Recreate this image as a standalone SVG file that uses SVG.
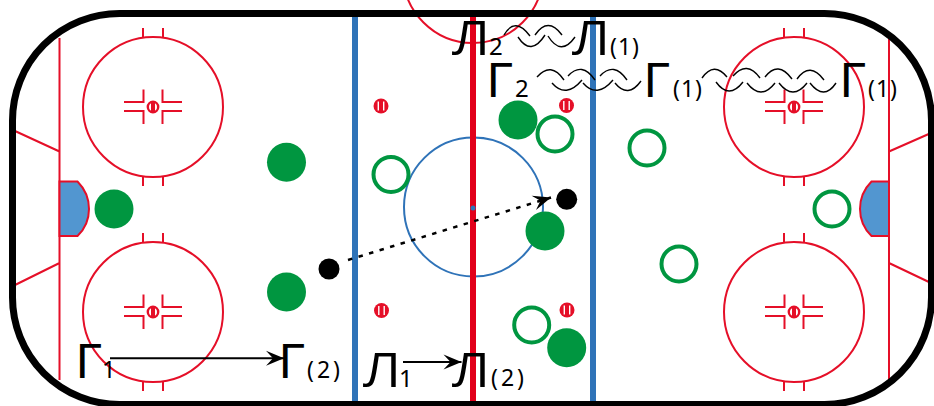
<svg xmlns="http://www.w3.org/2000/svg" xmlns:xlink="http://www.w3.org/1999/xlink" width="934" height="406" viewBox="0 0 934 406">
<style>
.rl{fill:none;stroke:#e50f28;stroke-width:2}
.crease{fill:#5296d0;stroke:#e50f28;stroke-width:2}
.dotr{fill:#fff;stroke:#e50f28;stroke-width:2.400}
.dotc{fill:#e50f28}
.gf{fill:#009640}
.go{fill:none;stroke:#009640;stroke-width:4}
.bk{fill:#000}
.coil{fill:none;stroke:#000;stroke-width:1.400}
.big{font-family:"DejaVu Sans",sans-serif;font-size:46px;fill:#000}
.bigl{font-family:"Open Sans",sans-serif;font-size:48px;fill:#000}
.sub{font-family:"Noto Sans",sans-serif;font-size:24px;fill:#000}
.par{font-family:"Noto Sans",sans-serif;font-size:23px;fill:#000;letter-spacing:3px}
.par1{font-family:"Noto Sans",sans-serif;font-size:23px;fill:#000;letter-spacing:1px}
</style>
<defs>
<marker id="ah" markerUnits="userSpaceOnUse" markerWidth="22" markerHeight="20" refX="18" refY="8" orient="auto" overflow="visible">
<path d="M0 0.500 L18 8 L0 15.500 L7 8 Z" fill="#000"/>
</marker>
<g id="hf"><circle r="5.200" class="dotr"/><rect x="-2" y="-4.500" width="4" height="9" class="dotc"/></g>
<g id="nd"><circle r="7.500" class="dotc"/><rect x="-3.400" y="-4.500" width="1.400" height="9" fill="#fff"/><rect x="2" y="-4.500" width="1.400" height="9" fill="#fff"/></g>
<g id="fo">
<circle r="70" class="rl"/>
<path class="rl" d="M-10 -79V-70M10 -79V-70M-10 70V79M10 70V79M-29 -5H-9.500V-17.500M29 -5H9.500V-17.500M-29 4H-9.500V17M29 4H9.500V17"/>
<use xlink:href="#hf" href="#hf"/>
</g>
</defs>
<rect width="934" height="406" fill="#fff"/>
<g id="rink-lines">
<circle cx="473" cy="-27" r="70" class="rl"/>
<path class="rl" d="M59.500 38V380M889 38V380M15 131L59.500 151.500M15 285L59.500 263M889 151.500L931 133M889 263L931 283"/>
<path class="crease" d="M59.500 181.500H77.500Q89 193 89 209Q89 225 77.500 236H59.500Z"/>
<path class="crease" d="M889 181.500H871.500Q860 193 860 209Q860 225 871.500 236H889Z"/>
<circle cx="473.500" cy="207" r="69.500" fill="none" stroke="#2f73b8" stroke-width="2"/>
<rect x="352" y="14" width="6" height="390" fill="#2f73b8"/>
<rect x="590" y="14" width="6" height="390" fill="#2f73b8"/>
<rect x="470" y="14" width="6" height="390" fill="#e2001a"/>
<circle cx="473" cy="208" r="2.500" fill="#2f73b8"/>
</g>
<g id="faceoff-1"><use xlink:href="#fo" href="#fo" x="153" y="107"/></g>
<g id="faceoff-2"><use xlink:href="#fo" href="#fo" x="153" y="312"/></g>
<g id="faceoff-3"><use xlink:href="#fo" href="#fo" x="794" y="107"/></g>
<g id="faceoff-4"><use xlink:href="#fo" href="#fo" x="794" y="312"/></g>
<g id="neutral-dots">
<use xlink:href="#nd" href="#nd" x="381" y="106"/>
<use xlink:href="#nd" href="#nd" x="566.500" y="105.500"/>
<use xlink:href="#nd" href="#nd" x="381.500" y="310.500"/>
<use xlink:href="#nd" href="#nd" x="567" y="310"/>
</g>
<rect id="board" x="12.500" y="13.500" width="919" height="391" rx="107" ry="107" fill="none" stroke="#000" stroke-width="7"/>
<g id="players-filled">
<circle id="f1" class="gf" cx="286.500" cy="162.300" r="19.500"/>
<circle id="f2" class="gf" cx="286.500" cy="292" r="19.500"/>
<circle id="f3" class="gf" cx="114" cy="209" r="19.500"/>
<circle id="f4" class="gf" cx="518" cy="120" r="19.500"/>
<circle id="f5" class="gf" cx="545" cy="231" r="19.500"/>
<circle id="f6" class="gf" cx="566.700" cy="347.700" r="19.500"/>
</g>
<g id="players-open">
<circle id="o1" class="go" cx="391" cy="174.500" r="17.500"/>
<circle id="o2" class="go" cx="555" cy="134" r="17.500"/>
<circle id="o3" class="go" cx="531.700" cy="325" r="17.500"/>
<circle id="o4" class="go" cx="647" cy="148" r="17.500"/>
<circle id="o5" class="go" cx="679" cy="264" r="17.500"/>
<circle id="o6" class="go" cx="832" cy="209" r="17.500"/>
</g>
<g id="pucks">
<circle id="p1" class="bk" cx="329" cy="269" r="10.500"/>
<circle id="p2" class="bk" cx="566.700" cy="199.300" r="10.500"/>
</g>
<g id="connectors">
<line x1="348" y1="260" x2="551" y2="197.500" stroke="#000" stroke-width="2.500" stroke-dasharray="4.500 6.500" marker-end="url(#ah)"/>
<line x1="110" y1="358.300" x2="284" y2="358.300" stroke="#000" stroke-width="2" marker-end="url(#ah)"/>
<line x1="403" y1="362" x2="461.500" y2="362" stroke="#000" stroke-width="2" marker-end="url(#ah)"/>
<path class="coil" d="M504 35Q515 16 530 36M518 37Q531 57 545 35M535 35Q548 16 562 35M548 36Q561 57 575 37"/>
<path class="coil" d="M537 77Q551 61 564 80M552 83Q566 99 582 80M568 76Q582 61 595 80M583 83Q597 99 613 80M600 76Q614 61 627 80M615 83Q628 99 641 81"/>
<path class="coil" d="M702 78Q714 61 727 77M716 82Q729 100 743 82M733 76Q747 60 760 78M747 83Q761 101 775 83M765 77Q778 60 792 79M779 83Q793 101 807 83M797 79Q810 61 824 80M810 83Q824 101 836 83"/>
</g>
<g id="labels">
<text class="big" x="75.500" y="378">Г</text><text class="sub" x="102" y="378">1</text>
<text class="big" x="278.500" y="378">Г</text><text class="par" x="307" y="378">(2)</text>
<text class="bigl" x="363" y="386.500" textLength="38" lengthAdjust="spacingAndGlyphs">Л</text><text class="sub" x="399" y="387">1</text>
<text class="bigl" x="452" y="386.500" textLength="38" lengthAdjust="spacingAndGlyphs">Л</text><text class="par" x="491" y="386">(2)</text>
<text class="bigl" x="452" y="55" textLength="38" lengthAdjust="spacingAndGlyphs">Л</text><text class="sub" x="489" y="55">2</text>
<text class="bigl" x="572" y="55" textLength="38" lengthAdjust="spacingAndGlyphs">Л</text><text class="par1" x="610" y="55">(1)</text>
<text class="big" x="486.500" y="97">Г</text><text class="sub" x="515" y="97">2</text>
<text class="big" x="643.500" y="97">Г</text><text class="par1" x="673" y="97">(1)</text>
<text class="big" x="839.500" y="97">Г</text><text class="par1" x="868" y="97">(1)</text>
</g>
</svg>
